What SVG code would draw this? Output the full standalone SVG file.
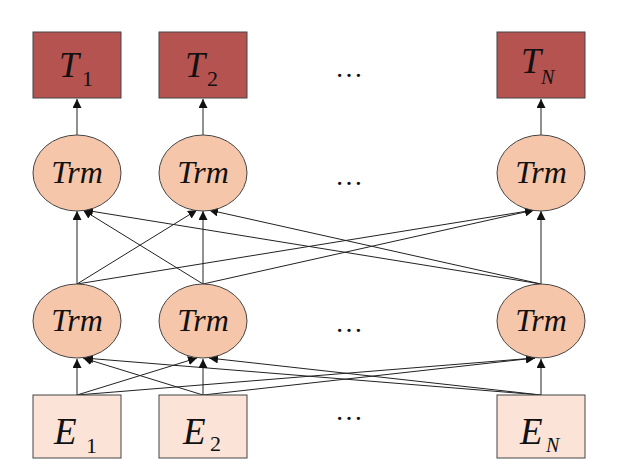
<svg xmlns="http://www.w3.org/2000/svg" width="621" height="469" viewBox="0 0 621 469">
<defs>
<marker id="ah" viewBox="0 0 10 10" refX="10" refY="5" markerWidth="9" markerHeight="9" markerUnits="userSpaceOnUse" orient="auto">
<path d="M0,0 L10,5 L0,10 z" fill="#111"/>
</marker>
<style>
.t{fill:#b55350;stroke:#444;stroke-width:1}
.trm{fill:#f6c6ab;stroke:#444;stroke-width:1}
.e{fill:#fbe4d7;stroke:#444;stroke-width:1}
text{font-family:'Liberation Serif','Times New Roman',serif;fill:#111}
.lbl{font-style:italic}
.c line{stroke:#222;stroke-width:1;marker-end:url(#ah)}
.dots{font-size:28px}
</style>
</defs>
<rect width="621" height="469" fill="#fff"/>
<g class="c">
<line x1="77" y1="135" x2="77" y2="99"/>
<line x1="203" y1="135" x2="203" y2="99"/>
<line x1="541" y1="135" x2="541" y2="99"/>
<line x1="77" y1="284" x2="77" y2="211"/>
<line x1="203" y1="284" x2="83" y2="210"/>
<line x1="541" y1="284" x2="84" y2="210"/>
<line x1="203" y1="284" x2="203" y2="211"/>
<line x1="77" y1="284" x2="197" y2="210"/>
<line x1="541" y1="284" x2="209" y2="210"/>
<line x1="541" y1="284" x2="541" y2="211"/>
<line x1="77" y1="284" x2="534" y2="210"/>
<line x1="203" y1="284" x2="534" y2="210"/>
<line x1="77" y1="395" x2="77" y2="359"/>
<line x1="203" y1="395" x2="83" y2="358"/>
<line x1="541" y1="395" x2="84" y2="358"/>
<line x1="203" y1="395" x2="203" y2="359"/>
<line x1="77" y1="395" x2="197" y2="358"/>
<line x1="541" y1="395" x2="209" y2="358"/>
<line x1="541" y1="395" x2="541" y2="359"/>
<line x1="77" y1="395" x2="535" y2="358"/>
<line x1="203" y1="395" x2="535" y2="358"/>
</g>
<g id="T1"><rect class="t" x="33" y="32" width="88" height="66"/><text class="lbl" x="59" y="77" font-size="36">T</text><text x="82" y="86" font-size="22">1</text></g>
<g id="T2"><rect class="t" x="159" y="32" width="88" height="66"/><text class="lbl" x="185" y="77" font-size="36">T</text><text x="207" y="86" font-size="22">2</text></g>
<g id="TN"><rect class="t" x="497" y="32" width="88" height="66"/><text class="lbl" x="521" y="73" font-size="36">T</text><text class="lbl" x="541" y="84" font-size="20">N</text></g>
<g id="Trm1a"><ellipse class="trm" cx="77" cy="173" rx="44" ry="38"/><text class="lbl" x="77" y="183" font-size="32" text-anchor="middle">Trm</text></g>
<g id="Trm2a"><ellipse class="trm" cx="203" cy="173" rx="44" ry="38"/><text class="lbl" x="203" y="183" font-size="32" text-anchor="middle">Trm</text></g>
<g id="TrmNa"><ellipse class="trm" cx="541" cy="173" rx="44" ry="38"/><text class="lbl" x="541" y="183" font-size="32" text-anchor="middle">Trm</text></g>
<g id="Trm1b"><ellipse class="trm" cx="77" cy="321" rx="44" ry="37"/><text class="lbl" x="77" y="331" font-size="32" text-anchor="middle">Trm</text></g>
<g id="Trm2b"><ellipse class="trm" cx="203" cy="321" rx="44" ry="37"/><text class="lbl" x="203" y="331" font-size="32" text-anchor="middle">Trm</text></g>
<g id="TrmNb"><ellipse class="trm" cx="541" cy="321" rx="44" ry="37"/><text class="lbl" x="541" y="331" font-size="32" text-anchor="middle">Trm</text></g>
<g id="E1"><rect class="e" x="33" y="395" width="88" height="63"/><text class="lbl" x="54" y="444" font-size="37">E</text><text x="86" y="453" font-size="22">1</text></g>
<g id="E2"><rect class="e" x="159" y="395" width="88" height="63"/><text class="lbl" x="183" y="444" font-size="37">E</text><text x="210" y="451" font-size="22">2</text></g>
<g id="EN"><rect class="e" x="497" y="395" width="88" height="63"/><text class="lbl" x="520" y="444" font-size="37">E</text><text class="lbl" x="546" y="452" font-size="20">N</text></g>
<text class="dots" x="349" y="77" text-anchor="middle">…</text>
<text class="dots" x="349" y="185" text-anchor="middle">…</text>
<text class="dots" x="349" y="332" text-anchor="middle">…</text>
<text class="dots" x="349" y="420" text-anchor="middle">…</text>
</svg>
